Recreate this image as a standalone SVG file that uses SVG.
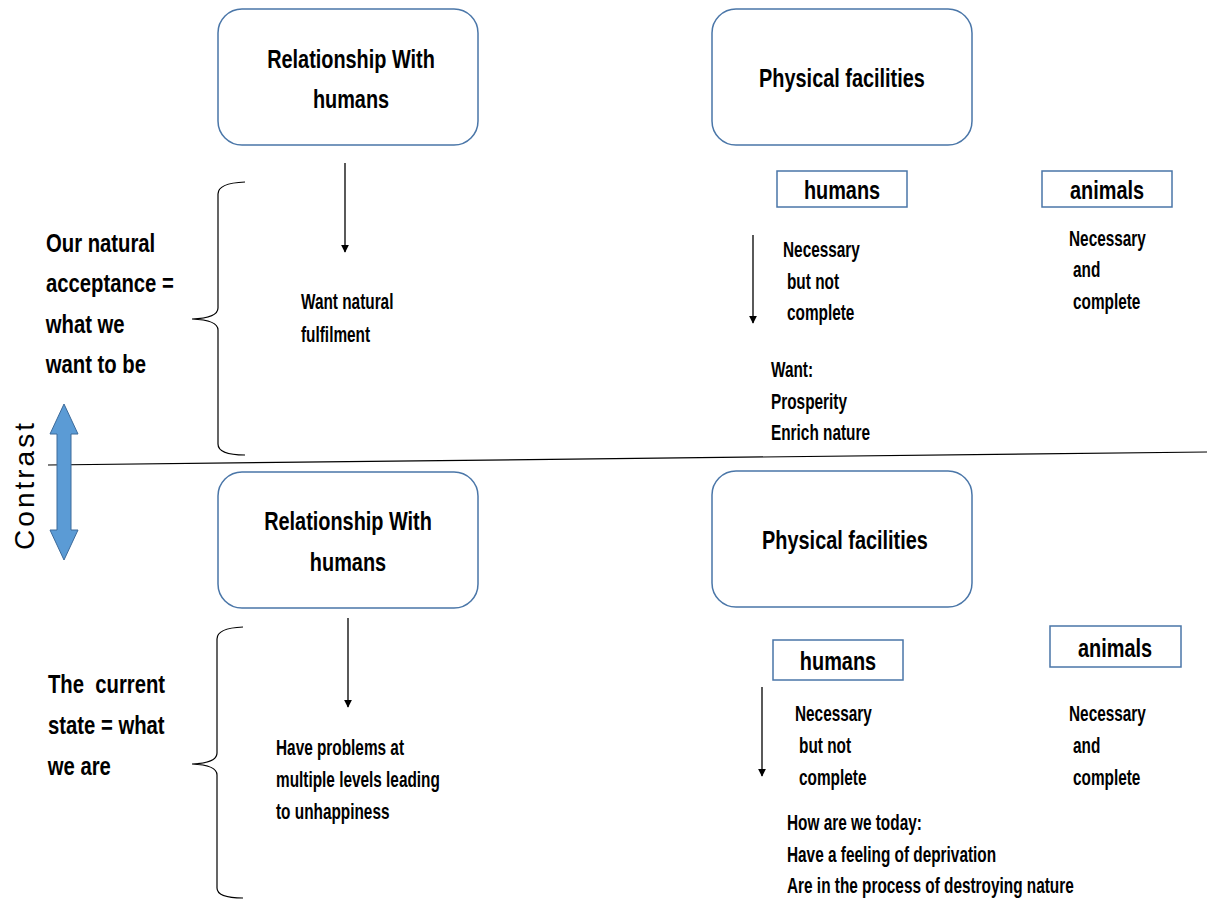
<svg xmlns="http://www.w3.org/2000/svg" width="1207" height="901" viewBox="0 0 1207 901">
  <defs>
    <marker id="arr" viewBox="0 0 10 10" refX="9" refY="5" markerWidth="8" markerHeight="8" markerUnits="userSpaceOnUse" orient="auto">
      <path d="M0,0 L10,5 L0,10 z" fill="#000"/>
    </marker>
    <style>
      text { font-family: "Liberation Sans", Arial, sans-serif; font-weight: bold; fill: #000; }
      .box { fill: #fff; stroke: #4a76a8; stroke-width: 1.5; }
      .tag { fill: #fff; stroke: #4a76a8; stroke-width: 1.5; }
      /* condensed bold lettering: glyphs squeezed horizontally around their anchor */
      .title, .tagtext { font-size: 25.5px; text-anchor: middle; transform-box: fill-box; transform-origin: 50% 50%; transform: scaleX(0.78); }
      .side { font-size: 26px; transform-box: fill-box; transform-origin: 0 0; transform: scaleX(0.78); }
      .note { font-size: 21.5px; transform-box: fill-box; transform-origin: 0 0; transform: scaleX(0.715); }
      .conn { stroke: #000; stroke-width: 1.3; fill: none; }
      .brace { stroke: #000; stroke-width: 1.2; fill: none; }
      .contrast { font-weight: normal; font-size: 28px; letter-spacing: 3px; text-anchor: middle; }
    </style>
  </defs>

  <!-- divider line between the two halves -->
  <line x1="48" y1="465" x2="1207" y2="452" stroke="#000" stroke-width="1.2"/>

  <!-- connectors -->
  <g id="connectors">
    <line class="conn" x1="345" y1="163" x2="345" y2="252" marker-end="url(#arr)"/>
    <line class="conn" x1="753" y1="235" x2="753" y2="323" marker-end="url(#arr)"/>
    <line class="conn" x1="348" y1="618" x2="348" y2="707" marker-end="url(#arr)"/>
    <line class="conn" x1="762" y1="687" x2="762" y2="776" marker-end="url(#arr)"/>
  </g>

  <!-- braces -->
  <g id="brace-top">
    <path class="brace" d="M245,182 Q218,183 218,194 L218,308 Q218,318 192,319 Q218,320 218,330 L218,444 Q218,455 245,455"/>
  </g>
  <g id="brace-bottom">
    <path class="brace" d="M243,627 Q217,628 217,639 L217,753 Q217,763 192,764 Q217,765 217,775 L217,888 Q217,898 243,898"/>
  </g>

  <!-- contrast double arrow -->
  <g id="contrast">
    <path d="M64,404 L78,434 L71,434 L71,530 L78,530 L64,560 L50,530 L57,530 L57,434 L50,434 Z" fill="#5b9bd5" stroke="#3c6a9a" stroke-width="1"/>
    <text class="contrast" transform="translate(34,485) rotate(-90)">Contrast</text>
  </g>

  <!-- upper half: natural acceptance -->
  <g id="label-natural">
    <text class="side" x="46" y="252">Our natural</text>
    <text class="side" x="46" y="292">acceptance =</text>
    <text class="side" x="46" y="333">what we</text>
    <text class="side" x="46" y="373">want to be</text>
  </g>

  <g id="node-relationship-top">
    <rect class="box" x="218" y="9" width="260" height="136" rx="24"/>
    <text class="title" x="351" y="68">Relationship With</text>
    <text class="title" x="351" y="108">humans</text>
  </g>

  <g id="node-physical-top">
    <rect class="box" x="712" y="9" width="260" height="136" rx="24"/>
    <text class="title" x="842" y="87">Physical facilities</text>
  </g>

  <g id="note-fulfilment">
    <text class="note" x="301" y="309">Want natural</text>
    <text class="note" x="301" y="342">fulfilment</text>
  </g>

  <g id="node-humans-top">
    <rect class="tag" x="777" y="171" width="130" height="36"/>
    <text class="tagtext" x="842" y="199">humans</text>
  </g>

  <g id="node-animals-top">
    <rect class="tag" x="1042" y="171" width="130" height="36"/>
    <text class="tagtext" x="1107" y="199">animals</text>
  </g>

  <g id="note-humans-top">
    <text class="note" x="783" y="257">Necessary</text>
    <text class="note" x="787" y="289">but not</text>
    <text class="note" x="787" y="320">complete</text>
  </g>

  <g id="note-animals-top">
    <text class="note" x="1069" y="246">Necessary</text>
    <text class="note" x="1073" y="277">and</text>
    <text class="note" x="1073" y="309">complete</text>
  </g>

  <g id="note-want">
    <text class="note" x="771" y="377">Want:</text>
    <text class="note" x="771" y="409">Prosperity</text>
    <text class="note" x="771" y="440">Enrich nature</text>
  </g>

  <!-- lower half: current state -->
  <g id="label-current">
    <text class="side" x="48" y="693" xml:space="preserve">The  current</text>
    <text class="side" x="48" y="734">state = what</text>
    <text class="side" x="48" y="775">we are</text>
  </g>

  <g id="node-relationship-bottom">
    <rect class="box" x="218" y="472" width="260" height="136" rx="24"/>
    <text class="title" x="348" y="530">Relationship With</text>
    <text class="title" x="348" y="571">humans</text>
  </g>

  <g id="node-physical-bottom">
    <rect class="box" x="712" y="471" width="260" height="136" rx="24"/>
    <text class="title" x="845" y="549">Physical facilities</text>
  </g>

  <g id="note-problems">
    <text class="note" x="276" y="755">Have problems at</text>
    <text class="note" x="276" y="787">multiple levels leading</text>
    <text class="note" x="276" y="819">to unhappiness</text>
  </g>

  <g id="node-humans-bottom">
    <rect class="tag" x="773" y="640" width="130" height="40"/>
    <text class="tagtext" x="838" y="670">humans</text>
  </g>

  <g id="node-animals-bottom">
    <rect class="tag" x="1050" y="626" width="131" height="41"/>
    <text class="tagtext" x="1115" y="657">animals</text>
  </g>

  <g id="note-humans-bottom">
    <text class="note" x="795" y="721">Necessary</text>
    <text class="note" x="799" y="753">but not</text>
    <text class="note" x="799" y="785">complete</text>
  </g>

  <g id="note-animals-bottom">
    <text class="note" x="1069" y="721">Necessary</text>
    <text class="note" x="1073" y="753">and</text>
    <text class="note" x="1073" y="785">complete</text>
  </g>

  <g id="note-today">
    <text class="note" x="787" y="830">How are we today:</text>
    <text class="note" x="787" y="862">Have a feeling of deprivation</text>
    <text class="note" x="787" y="893">Are in the process of destroying nature</text>
  </g>
</svg>
